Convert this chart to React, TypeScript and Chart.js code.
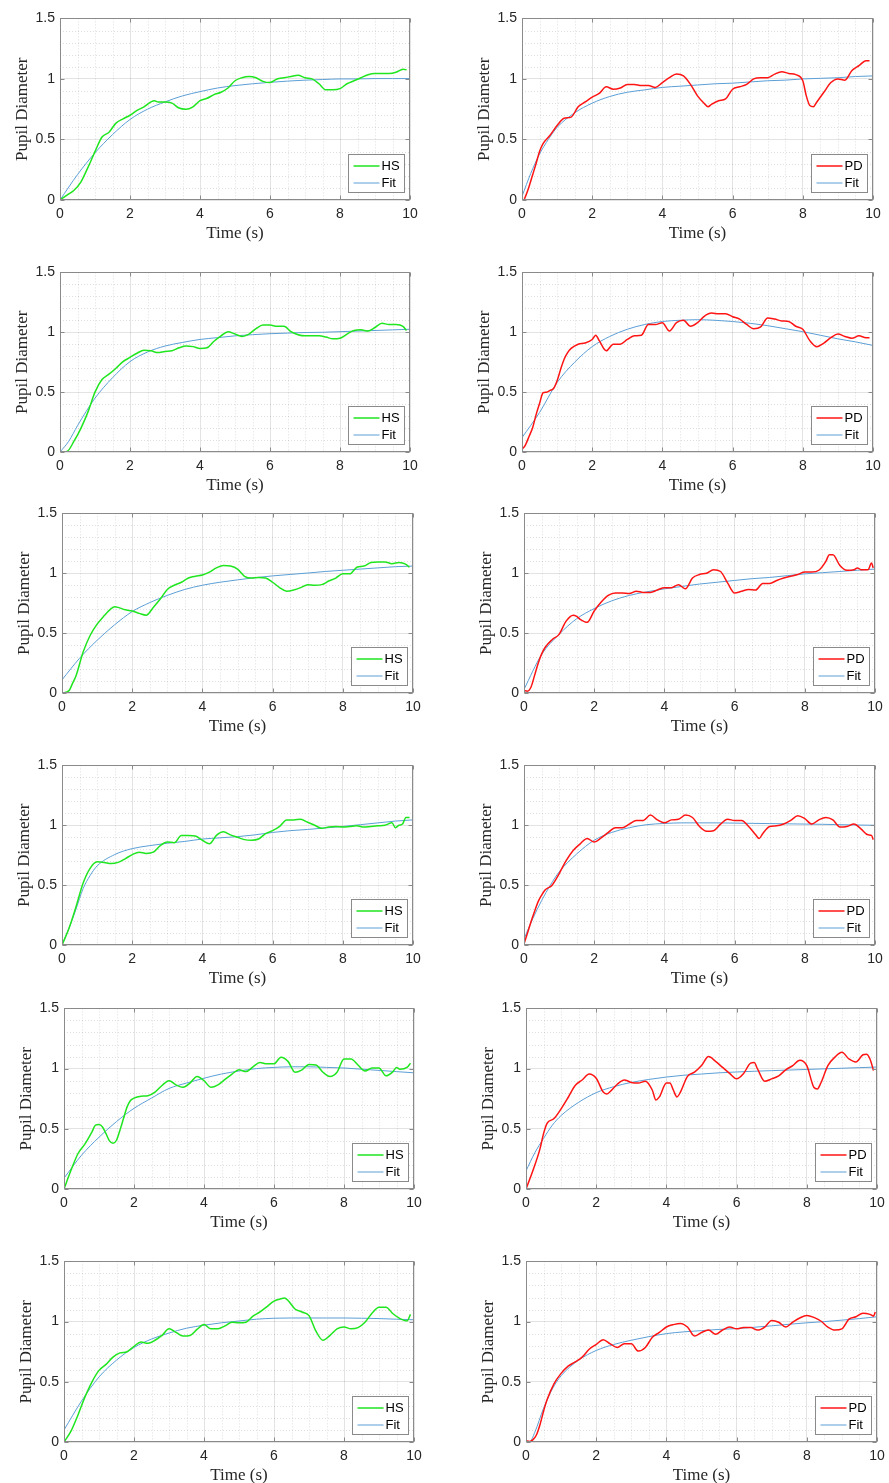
import React, { useEffect, useRef } from "react";
import { Chart, registerables } from "chart.js";

Chart.register(...registerables);

// ---------- tick labels ----------
const X_TICKS = [0, 2, 4, 6, 8, 10];
const Y_TICKS = [0, 0.5, 1, 1.5];
const X_LABEL = "Time (s)";
const Y_LABEL = "Pupil Diameter";

// ---------- series: [time (s), pupil diameter] ----------
const hs1 = [[0,0],[0.2,0.04],[0.4,0.08],[0.6,0.15],[0.8,0.27],[1,0.4],[1.2,0.52],[1.4,0.56],[1.6,0.635],[1.8,0.67],[2,0.7],[2.2,0.74],[2.4,0.77],[2.6,0.81],[2.7,0.82],[2.8,0.81],[3,0.81],[3.2,0.8],[3.4,0.76],[3.6,0.75],[3.8,0.77],[4,0.82],[4.2,0.84],[4.4,0.87],[4.6,0.89],[4.8,0.925],[5,0.985],[5.2,1.01],[5.4,1.02],[5.6,1.01],[5.8,0.98],[6,0.97],[6.2,1.0],[6.4,1.01],[6.6,1.02],[6.8,1.03],[7,1.01],[7.2,1.0],[7.4,0.96],[7.6,0.91],[7.8,0.91],[8,0.92],[8.2,0.96],[8.4,0.985],[8.6,1.01],[8.8,1.035],[9,1.045],[9.2,1.045],[9.4,1.045],[9.6,1.055],[9.8,1.08],[9.9,1.075]];
const fit1 = [[0,0],[0.5,0.21],[1,0.39],[1.5,0.54],[2,0.665],[2.5,0.75],[3,0.81],[3.5,0.86],[4,0.895],[4.5,0.925],[5,0.945],[5.5,0.96],[6,0.972],[6.5,0.982],[7,0.99],[7.5,0.995],[8,1.0],[8.5,1.0],[9,1.003],[9.5,1.003],[10,1.003]];

const pd2 = [[0,0],[0.05,0.0],[0.1,0.03],[0.2,0.11],[0.3,0.205],[0.4,0.3],[0.5,0.4],[0.6,0.465],[0.8,0.535],[1,0.615],[1.2,0.675],[1.4,0.685],[1.6,0.77],[1.8,0.81],[2,0.85],[2.2,0.88],[2.4,0.935],[2.6,0.915],[2.8,0.925],[3,0.955],[3.2,0.955],[3.4,0.945],[3.6,0.945],[3.8,0.93],[4,0.97],[4.2,1.01],[4.4,1.04],[4.6,1.025],[4.8,0.955],[5,0.86],[5.2,0.795],[5.3,0.77],[5.4,0.79],[5.6,0.82],[5.8,0.835],[6,0.915],[6.2,0.935],[6.4,0.955],[6.6,1.0],[6.8,1.01],[7,1.01],[7.2,1.04],[7.4,1.06],[7.6,1.045],[7.8,1.035],[8,0.985],[8.1,0.86],[8.2,0.78],[8.3,0.77],[8.4,0.81],[8.6,0.89],[8.8,0.97],[9,1.0],[9.2,0.99],[9.4,1.07],[9.6,1.11],[9.8,1.15],[9.9,1.15]];
const fit2 = [[0,0.03],[0.25,0.22],[0.5,0.38],[0.75,0.5],[1,0.6],[1.5,0.72],[2,0.8],[2.5,0.855],[3,0.89],[3.5,0.91],[4,0.93],[4.5,0.94],[5,0.95],[5.5,0.96],[6,0.965],[6.5,0.975],[7,0.985],[7.5,0.99],[8,1.0],[8.5,1.005],[9,1.01],[9.5,1.02],[10,1.025]];

const hs3 = [[0,0],[0.2,0.005],[0.4,0.09],[0.6,0.2],[0.8,0.335],[1,0.5],[1.2,0.605],[1.4,0.65],[1.6,0.7],[1.8,0.755],[2,0.79],[2.2,0.825],[2.4,0.85],[2.6,0.845],[2.8,0.83],[3,0.84],[3.2,0.845],[3.4,0.87],[3.6,0.885],[3.8,0.88],[4,0.865],[4.2,0.87],[4.4,0.925],[4.6,0.97],[4.8,1.005],[5,0.985],[5.2,0.965],[5.4,0.985],[5.6,1.03],[5.8,1.06],[6,1.06],[6.2,1.05],[6.4,1.05],[6.6,1.005],[6.8,0.98],[7,0.97],[7.2,0.97],[7.4,0.97],[7.6,0.96],[7.8,0.945],[8,0.95],[8.2,0.985],[8.4,1.015],[8.6,1.02],[8.8,1.01],[9,1.04],[9.2,1.075],[9.4,1.065],[9.6,1.065],[9.8,1.05],[9.9,1.015]];
const fit3 = [[0,0],[0.25,0.09],[0.5,0.22],[0.75,0.34],[1,0.45],[1.5,0.62],[2,0.755],[2.5,0.835],[3,0.885],[3.5,0.915],[4,0.94],[4.5,0.955],[5,0.97],[5.5,0.98],[6,0.988],[6.5,0.993],[7,0.998],[7.5,1.0],[8,1.005],[8.5,1.01],[9,1.015],[9.5,1.02],[10,1.025]];

const pd4 = [[0,0.02],[0.1,0.06],[0.2,0.13],[0.3,0.2],[0.4,0.31],[0.5,0.405],[0.6,0.495],[0.7,0.5],[0.8,0.515],[0.9,0.53],[1,0.595],[1.1,0.69],[1.2,0.775],[1.3,0.83],[1.4,0.865],[1.6,0.9],[1.8,0.91],[2,0.94],[2.1,0.975],[2.2,0.93],[2.4,0.845],[2.6,0.9],[2.8,0.9],[3,0.94],[3.2,0.97],[3.4,0.975],[3.6,1.065],[3.8,1.065],[4,1.08],[4.2,1.01],[4.4,1.08],[4.6,1.1],[4.8,1.05],[5,1.08],[5.2,1.135],[5.4,1.16],[5.6,1.155],[5.8,1.155],[6,1.13],[6.2,1.11],[6.4,1.065],[6.6,1.03],[6.8,1.045],[7,1.12],[7.2,1.11],[7.4,1.095],[7.6,1.09],[7.8,1.05],[8,1.025],[8.2,0.93],[8.4,0.88],[8.6,0.91],[8.8,0.955],[9,0.985],[9.2,0.965],[9.4,0.95],[9.6,0.97],[9.8,0.955],[9.9,0.955]];
const fit4 = [[0,0.12],[0.5,0.33],[1,0.58],[1.5,0.75],[2,0.88],[2.5,0.965],[3,1.025],[3.5,1.065],[4,1.09],[4.5,1.1],[5,1.105],[5.5,1.1],[6,1.09],[6.5,1.075],[7,1.055],[7.5,1.03],[8,1.005],[8.5,0.975],[9,0.945],[9.5,0.92],[10,0.89]];

const hs5 = [[0,0],[0.2,0.02],[0.3,0.08],[0.4,0.145],[0.6,0.34],[0.8,0.48],[1,0.575],[1.2,0.645],[1.4,0.705],[1.5,0.72],[1.6,0.715],[1.8,0.695],[2,0.685],[2.2,0.665],[2.4,0.65],[2.6,0.715],[2.8,0.785],[3,0.865],[3.2,0.9],[3.4,0.925],[3.6,0.96],[3.8,0.975],[4,0.985],[4.2,1.01],[4.4,1.045],[4.6,1.065],[4.8,1.06],[5,1.035],[5.2,0.975],[5.4,0.96],[5.6,0.965],[5.8,0.96],[6,0.925],[6.2,0.88],[6.4,0.85],[6.6,0.86],[6.8,0.88],[7,0.905],[7.2,0.9],[7.4,0.905],[7.6,0.935],[7.8,0.96],[8,0.995],[8.2,0.995],[8.4,1.05],[8.6,1.06],[8.8,1.09],[9,1.095],[9.2,1.095],[9.4,1.08],[9.6,1.09],[9.8,1.075],[9.9,1.05]];
const fit5 = [[0,0.11],[0.5,0.29],[1,0.44],[1.5,0.57],[2,0.68],[2.5,0.755],[3,0.815],[3.5,0.865],[4,0.9],[4.5,0.925],[5,0.945],[5.5,0.963],[6,0.978],[6.5,0.99],[7,1.002],[7.5,1.015],[8,1.025],[8.5,1.035],[9,1.045],[9.5,1.055],[10,1.06]];

const pd6 = [[0,0.02],[0.1,0.015],[0.2,0.05],[0.3,0.145],[0.4,0.245],[0.5,0.325],[0.6,0.38],[0.8,0.445],[1,0.49],[1.2,0.6],[1.4,0.65],[1.5,0.64],[1.6,0.615],[1.8,0.59],[2,0.685],[2.2,0.76],[2.4,0.815],[2.6,0.835],[2.8,0.835],[3,0.83],[3.2,0.85],[3.4,0.84],[3.6,0.84],[3.8,0.86],[4,0.88],[4.2,0.88],[4.4,0.905],[4.6,0.87],[4.8,0.96],[5,0.99],[5.2,1.0],[5.4,1.03],[5.6,1.015],[5.8,0.92],[6,0.835],[6.2,0.85],[6.4,0.865],[6.6,0.86],[6.8,0.915],[7,0.915],[7.2,0.94],[7.4,0.96],[7.6,0.975],[7.8,0.99],[8,1.01],[8.2,1.01],[8.4,1.025],[8.6,1.1],[8.7,1.155],[8.8,1.155],[9,1.065],[9.2,1.025],[9.4,1.03],[9.5,1.045],[9.6,1.03],[9.8,1.03],[9.9,1.085],[9.95,1.045]];
const fit6 = [[0,0.03],[0.5,0.32],[1,0.49],[1.5,0.62],[2,0.705],[2.5,0.77],[3,0.815],[3.5,0.845],[4,0.87],[4.5,0.89],[5,0.91],[5.5,0.925],[6,0.94],[6.5,0.955],[7,0.965],[7.5,0.98],[8,0.995],[8.5,1.005],[9,1.015],[9.5,1.025],[10,1.035]];

const hs7 = [[0,0],[0.2,0.14],[0.4,0.32],[0.6,0.515],[0.8,0.64],[1,0.695],[1.2,0.69],[1.4,0.68],[1.6,0.69],[1.8,0.72],[2,0.755],[2.2,0.775],[2.4,0.765],[2.6,0.775],[2.8,0.83],[3,0.86],[3.2,0.855],[3.4,0.915],[3.6,0.915],[3.8,0.91],[4,0.875],[4.2,0.845],[4.4,0.915],[4.6,0.945],[4.8,0.92],[5,0.9],[5.2,0.88],[5.4,0.875],[5.6,0.885],[5.8,0.93],[6,0.955],[6.2,0.99],[6.4,1.045],[6.6,1.045],[6.8,1.05],[7,1.025],[7.2,1.0],[7.4,0.975],[7.6,0.985],[7.8,0.99],[8,0.985],[8.2,0.99],[8.4,0.995],[8.6,0.985],[8.8,0.99],[9,0.995],[9.2,1.0],[9.4,1.02],[9.5,0.98],[9.6,1.0],[9.7,1.01],[9.8,1.065],[9.9,1.065]];
const fit7 = [[0,0],[0.2,0.14],[0.4,0.3],[0.6,0.47],[0.8,0.58],[1,0.66],[1.5,0.755],[2,0.805],[2.5,0.83],[3,0.85],[3.5,0.865],[4,0.885],[4.5,0.895],[5,0.905],[5.5,0.92],[6,0.94],[6.5,0.955],[7,0.965],[7.5,0.978],[8,0.99],[8.5,1.005],[9,1.02],[9.5,1.035],[10,1.045]];

const pd8 = [[0,0.01],[0.1,0.1],[0.2,0.195],[0.3,0.28],[0.4,0.36],[0.5,0.415],[0.6,0.46],[0.8,0.5],[1,0.595],[1.2,0.705],[1.4,0.79],[1.6,0.845],[1.8,0.89],[2,0.86],[2.2,0.895],[2.4,0.94],[2.6,0.98],[2.8,0.98],[3,1.01],[3.2,1.04],[3.4,1.04],[3.6,1.085],[3.8,1.045],[4,1.02],[4.2,1.045],[4.4,1.05],[4.6,1.085],[4.8,1.065],[5,0.99],[5.2,0.95],[5.4,0.955],[5.6,1.01],[5.8,1.05],[6,1.04],[6.2,1.04],[6.4,0.99],[6.6,0.92],[6.7,0.89],[6.8,0.93],[7,0.99],[7.2,0.995],[7.4,1.01],[7.6,1.04],[7.8,1.08],[8,1.055],[8.2,1.01],[8.4,1.045],[8.6,1.065],[8.8,1.045],[9,0.985],[9.2,0.99],[9.4,1.01],[9.6,0.97],[9.8,0.92],[9.9,0.915],[9.95,0.88]];
const fit8 = [[0,0.05],[0.25,0.22],[0.5,0.37],[0.75,0.5],[1,0.61],[1.5,0.76],[2,0.875],[2.5,0.94],[3,0.98],[3.5,1.005],[4,1.015],[4.5,1.02],[5,1.02],[5.5,1.02],[6,1.018],[6.5,1.016],[7,1.014],[7.5,1.012],[8,1.01],[8.5,1.008],[9,1.005],[9.5,1.002],[10,1.0]];

const hs9 = [[0,0],[0.2,0.155],[0.4,0.295],[0.6,0.375],[0.8,0.475],[0.9,0.53],[1,0.535],[1.1,0.515],[1.2,0.46],[1.3,0.4],[1.4,0.38],[1.5,0.405],[1.6,0.49],[1.7,0.585],[1.8,0.68],[1.9,0.735],[2,0.755],[2.2,0.77],[2.4,0.775],[2.6,0.805],[2.8,0.86],[3,0.9],[3.2,0.865],[3.4,0.845],[3.6,0.88],[3.8,0.935],[4,0.9],[4.2,0.845],[4.4,0.865],[4.6,0.91],[4.8,0.955],[5,0.99],[5.2,0.975],[5.4,1.015],[5.6,1.05],[5.8,1.04],[6,1.04],[6.2,1.095],[6.4,1.06],[6.6,0.97],[6.8,0.99],[7,1.035],[7.2,1.03],[7.4,0.97],[7.6,0.935],[7.8,0.97],[8,1.08],[8.2,1.08],[8.4,1.03],[8.6,0.98],[8.8,1.005],[9,1.005],[9.2,0.94],[9.4,0.975],[9.5,1.01],[9.6,0.995],[9.8,1.01],[9.9,1.045]];
const fit9 = [[0,0.09],[0.5,0.28],[1,0.43],[1.5,0.56],[2,0.67],[2.5,0.755],[3,0.835],[3.5,0.88],[4,0.92],[4.5,0.955],[5,0.98],[5.5,1.0],[6,1.01],[6.5,1.015],[7,1.015],[7.5,1.01],[8,1.005],[8.5,0.995],[9,0.985],[9.5,0.975],[10,0.965]];

const pd10 = [[0,0],[0.2,0.155],[0.4,0.335],[0.5,0.46],[0.6,0.545],[0.8,0.585],[1,0.665],[1.2,0.76],[1.4,0.86],[1.6,0.905],[1.8,0.955],[2,0.92],[2.2,0.805],[2.3,0.79],[2.4,0.81],[2.6,0.87],[2.8,0.905],[3,0.885],[3.2,0.88],[3.4,0.895],[3.6,0.82],[3.7,0.74],[3.8,0.765],[4,0.88],[4.1,0.88],[4.2,0.82],[4.3,0.765],[4.4,0.805],[4.6,0.935],[4.8,0.97],[5,1.025],[5.2,1.1],[5.4,1.06],[5.6,1.01],[5.8,0.96],[6,0.915],[6.2,0.96],[6.4,1.045],[6.5,1.05],[6.6,0.995],[6.8,0.895],[7,0.915],[7.2,0.94],[7.4,0.99],[7.6,1.025],[7.8,1.07],[8,1.025],[8.2,0.845],[8.3,0.83],[8.4,0.88],[8.6,1.025],[8.8,1.095],[9,1.135],[9.2,1.08],[9.4,1.055],[9.6,1.115],[9.7,1.12],[9.8,1.08],[9.9,0.985]];
const fit10 = [[0,0.15],[0.25,0.3],[0.5,0.42],[0.75,0.53],[1,0.61],[1.5,0.72],[2,0.8],[2.5,0.85],[3,0.885],[3.5,0.91],[4,0.93],[4.5,0.945],[5,0.955],[5.5,0.965],[6,0.972],[6.5,0.978],[7,0.983],[7.5,0.988],[8,0.993],[8.5,0.998],[9,1.003],[9.5,1.008],[10,1.013]];

const hs11 = [[0,0],[0.2,0.09],[0.4,0.225],[0.6,0.375],[0.8,0.5],[1,0.595],[1.2,0.645],[1.4,0.705],[1.6,0.74],[1.8,0.75],[2,0.795],[2.2,0.83],[2.4,0.82],[2.6,0.845],[2.8,0.885],[3,0.94],[3.2,0.91],[3.4,0.88],[3.6,0.885],[3.8,0.935],[4,0.975],[4.2,0.94],[4.4,0.94],[4.6,0.965],[4.8,0.995],[5,0.99],[5.2,0.995],[5.4,1.045],[5.6,1.08],[5.8,1.125],[6,1.17],[6.2,1.19],[6.3,1.195],[6.4,1.175],[6.6,1.105],[6.8,1.08],[7,1.05],[7.2,0.92],[7.4,0.845],[7.6,0.885],[7.8,0.94],[8,0.955],[8.2,0.94],[8.4,0.95],[8.6,0.995],[8.8,1.07],[9,1.12],[9.2,1.12],[9.4,1.065],[9.6,1.025],[9.8,1.005],[9.9,1.06]];
const fit11 = [[0,0.1],[0.5,0.34],[1,0.54],[1.5,0.68],[2,0.785],[2.5,0.855],[3,0.905],[3.5,0.945],[4,0.97],[4.5,0.99],[5,1.005],[5.5,1.02],[6,1.028],[6.5,1.03],[7,1.03],[7.5,1.03],[8,1.03],[8.5,1.028],[9,1.025],[9.5,1.02],[10,1.015]];

const pd12 = [[0,0.01],[0.1,0.005],[0.2,0.02],[0.3,0.06],[0.4,0.145],[0.5,0.255],[0.6,0.35],[0.8,0.485],[1,0.57],[1.2,0.63],[1.4,0.665],[1.6,0.705],[1.8,0.77],[2,0.81],[2.2,0.85],[2.4,0.815],[2.6,0.785],[2.8,0.815],[3,0.815],[3.2,0.755],[3.4,0.785],[3.6,0.87],[3.8,0.91],[4,0.955],[4.2,0.975],[4.4,0.985],[4.6,0.955],[4.8,0.88],[5,0.91],[5.2,0.93],[5.4,0.895],[5.6,0.93],[5.8,0.955],[6,0.94],[6.2,0.95],[6.4,0.95],[6.6,0.93],[6.8,0.955],[7,1.01],[7.2,0.995],[7.4,0.955],[7.6,0.995],[7.8,1.03],[8,1.05],[8.2,1.035],[8.4,1.005],[8.6,0.955],[8.8,0.93],[9,0.94],[9.2,1.02],[9.4,1.04],[9.6,1.07],[9.8,1.06],[9.9,1.045],[9.95,1.08]];
const fit12 = [[0,0],[0.1,0.0],[0.25,0.08],[0.5,0.28],[0.75,0.44],[1,0.55],[1.5,0.68],[2,0.76],[2.5,0.81],[3,0.845],[3.5,0.875],[4,0.9],[4.5,0.915],[5,0.925],[5.5,0.935],[6,0.942],[6.5,0.953],[7,0.965],[7.5,0.978],[8,0.99],[8.5,1.0],[9,1.012],[9.5,1.025],[10,1.04]];

// ---------- styles ----------
const GREEN = "#1fe61f";
const RED = "#ff1414";
const FIT_BLUE = "#5c9fd6";
const AXIS_GRAY = "#8a8a8a";
const TEXT = "#262626";
const SANS = '"Liberation Sans", Arial, Helvetica, sans-serif';
const SERIF = '"Liberation Serif", "Times New Roman", serif';

// plot-area rectangles in page pixels
const LAYOUT = [
  { l: 60, t: 17, w: 350, h: 183 },
  { l: 522, t: 17, w: 351, h: 183 },
  { l: 60, t: 271, w: 350, h: 181 },
  { l: 522, t: 271, w: 351, h: 181 },
  { l: 62, t: 512, w: 351, h: 181 },
  { l: 524, t: 512, w: 351, h: 181 },
  { l: 62, t: 764, w: 351, h: 181 },
  { l: 524, t: 764, w: 351, h: 181 },
  { l: 64, t: 1007, w: 350, h: 182 },
  { l: 526, t: 1007, w: 351, h: 182 },
  { l: 64, t: 1260, w: 350, h: 182 },
  { l: 526, t: 1260, w: 351, h: 182 },
];

const SERIES = [
  { label: "HS", color: GREEN, data: hs1, fit: fit1 },
  { label: "PD", color: RED, data: pd2, fit: fit2 },
  { label: "HS", color: GREEN, data: hs3, fit: fit3 },
  { label: "PD", color: RED, data: pd4, fit: fit4 },
  { label: "HS", color: GREEN, data: hs5, fit: fit5 },
  { label: "PD", color: RED, data: pd6, fit: fit6 },
  { label: "HS", color: GREEN, data: hs7, fit: fit7 },
  { label: "PD", color: RED, data: pd8, fit: fit8 },
  { label: "HS", color: GREEN, data: hs9, fit: fit9 },
  { label: "PD", color: RED, data: pd10, fit: fit10 },
  { label: "HS", color: GREEN, data: hs11, fit: fit11 },
  { label: "PD", color: RED, data: pd12, fit: fit12 },
];

const PAD_LEFT = 60;
const PAD_TOP = 12;
const PAD_RIGHT = 16;
const PAD_BOTTOM = 45;

const matlabAxes = {
  id: "matlabAxes",
  beforeDatasetsDraw(chart: any) {
    const { ctx, chartArea: a, scales } = chart;
    const x = scales.x;
    const y = scales.y;
    ctx.save();
    ctx.strokeStyle = "rgba(0,0,0,0.13)";
    ctx.lineWidth = 1;
    ctx.setLineDash([1, 2]);
    for (let i = 1; i < 20; i++) {
      if (i % 4 === 0) continue;
      const px = Math.round(x.getPixelForValue(i * 0.5)) + 0.5;
      ctx.beginPath();
      ctx.moveTo(px, a.top);
      ctx.lineTo(px, a.bottom);
      ctx.stroke();
    }
    for (let i = 1; i < 15; i++) {
      if (i % 5 === 0) continue;
      const py = Math.round(y.getPixelForValue(i / 10)) + 0.5;
      ctx.beginPath();
      ctx.moveTo(a.left, py);
      ctx.lineTo(a.right, py);
      ctx.stroke();
    }
    ctx.restore();
  },
  afterDatasetsDraw(chart: any) {
    const { ctx, chartArea: a, scales } = chart;
    const x = scales.x;
    const y = scales.y;
    ctx.save();
    ctx.setLineDash([]);
    ctx.strokeStyle = AXIS_GRAY;
    ctx.lineWidth = 1;
    const L = Math.round(a.left) + 0.5;
    const R = Math.round(a.right) - 0.5;
    const T = Math.round(a.top) + 0.5;
    const B = Math.round(a.bottom) - 0.5;
    ctx.strokeRect(L, T, R - L, B - T);
    const tl = 4;
    ctx.beginPath();
    X_TICKS.forEach((v) => {
      const px = Math.round(x.getPixelForValue(v)) + 0.5;
      ctx.moveTo(px, B);
      ctx.lineTo(px, B - tl);
      ctx.moveTo(px, T);
      ctx.lineTo(px, T + tl);
    });
    Y_TICKS.forEach((v) => {
      const py = Math.round(y.getPixelForValue(v)) + 0.5;
      ctx.moveTo(L, py);
      ctx.lineTo(L + tl, py);
      ctx.moveTo(R, py);
      ctx.lineTo(R - tl, py);
    });
    ctx.stroke();

    // legend (bottom-right, inside the axes)
    const ds = chart.data.datasets;
    ctx.font = `13px ${SANS}`;
    const textW = Math.max(...ds.map((d: any) => ctx.measureText(d.label).width));
    const boxW = Math.round(5 + 26 + 3 + textW + 4);
    const boxH = 38;
    const bx = Math.round(a.right) - 6 - boxW + 0.5;
    const by = Math.round(a.bottom) - 8 - boxH + 0.5;
    ctx.fillStyle = "#ffffff";
    ctx.fillRect(bx, by, boxW, boxH);
    ctx.strokeStyle = AXIS_GRAY;
    ctx.strokeRect(bx, by, boxW, boxH);
    ds.forEach((d: any, i: number) => {
      const cy = Math.round(by + 11.5 + i * 17.3);
      ctx.strokeStyle = d.borderColor;
      ctx.lineWidth = d.borderWidth;
      ctx.beginPath();
      ctx.moveTo(bx + 5, cy);
      ctx.lineTo(bx + 31, cy);
      ctx.stroke();
      ctx.fillStyle = "#000000";
      ctx.textBaseline = "middle";
      ctx.textAlign = "left";
      ctx.fillText(d.label, bx + 33, cy + 0.5);
    });
    ctx.restore();
  },
};

function Panel({ idx }: { idx: number }) {
  const ref = useRef<HTMLCanvasElement | null>(null);
  const box = LAYOUT[idx];
  const s = SERIES[idx];
  const cw = box.w + PAD_LEFT + PAD_RIGHT;
  const ch = box.h + PAD_TOP + PAD_BOTTOM;

  useEffect(() => {
    if (!ref.current) return;
    const chart = new Chart(ref.current, {
      type: "line",
      data: {
        datasets: [
          {
            label: s.label,
            data: s.data.map(([t, v]) => ({ x: t, y: v })),
            borderColor: s.color,
            borderWidth: 1.5,
            pointRadius: 0,
            cubicInterpolationMode: "monotone",
            fill: false,
          },
          {
            label: "Fit",
            data: s.fit.map(([t, v]) => ({ x: t, y: v })),
            borderColor: FIT_BLUE,
            borderWidth: 1,
            pointRadius: 0,
            cubicInterpolationMode: "monotone",
            fill: false,
          },
        ],
      },
      options: {
        animation: false,
        responsive: false,
        devicePixelRatio: 1,
        events: [],
        layout: { padding: { left: 0, top: PAD_TOP, right: PAD_RIGHT, bottom: 0 } },
        plugins: { legend: { display: false }, tooltip: { enabled: false } },
        scales: {
          x: {
            type: "linear",
            min: 0,
            max: 10,
            afterBuildTicks: (sc: any) => {
              sc.ticks = X_TICKS.map((v) => ({ value: v }));
            },
            afterFit: (sc: any) => {
              sc.height = PAD_BOTTOM;
            },
            ticks: {
              autoSkip: false,
              maxRotation: 0,
              padding: 6,
              color: TEXT,
              font: { family: SANS, size: 14 },
              callback: (v: any) => String(v),
            },
            grid: { color: "rgba(0,0,0,0.11)", drawTicks: false, lineWidth: 1 },
            border: { display: false },
            title: {
              display: true,
              text: X_LABEL,
              color: TEXT,
              font: { family: SERIF, size: 17 },
              padding: { top: 0, bottom: 1 },
            },
          },
          y: {
            type: "linear",
            min: 0,
            max: 1.5,
            afterBuildTicks: (sc: any) => {
              sc.ticks = Y_TICKS.map((v) => ({ value: v }));
            },
            afterFit: (sc: any) => {
              sc.width = PAD_LEFT;
            },
            ticks: {
              autoSkip: false,
              padding: 5,
              color: TEXT,
              font: { family: SANS, size: 14 },
              callback: (v: any) => String(v),
            },
            grid: { color: "rgba(0,0,0,0.11)", drawTicks: false, lineWidth: 1 },
            border: { display: false },
            title: {
              display: true,
              text: Y_LABEL,
              color: TEXT,
              font: { family: SERIF, size: 17 },
              padding: { top: 12, bottom: 0 },
            },
          },
        },
      },
      plugins: [matlabAxes],
    } as any);
    return () => chart.destroy();
  }, []);

  return (
    <canvas
      ref={ref}
      width={cw}
      height={ch}
      style={{
        position: "absolute",
        left: box.l - PAD_LEFT,
        top: box.t - PAD_TOP,
        width: cw,
        height: ch,
      }}
    />
  );
}

export default function App() {
  return (
    <div
      style={{
        position: "absolute",
        left: 0,
        top: 0,
        width: 889,
        height: 1483,
        overflow: "hidden",
        background: "#ffffff",
      }}
    >
      {LAYOUT.map((_, i) => (
        <Panel key={i} idx={i} />
      ))}
    </div>
  );
}
